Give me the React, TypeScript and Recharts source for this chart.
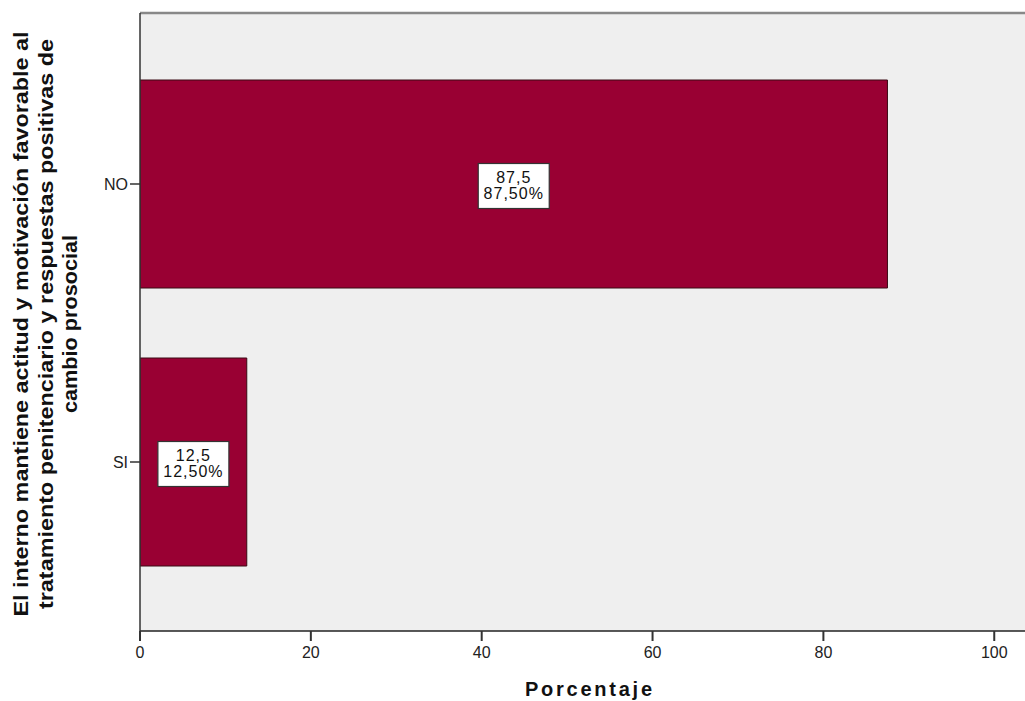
import { BarChart, Bar, XAxis, YAxis, CartesianGrid, LabelList } from "recharts";

const categories = ["NO", "SI"];
const percentages = [87.5, 12.5];
const xTicks = [0, 20, 40, 60, 80, 100];
const yTitleLines = [
  "El interno mantiene actitud y motivación favorable al",
  "tratamiento penitenciario y respuestas positivas de",
  "cambio prosocial",
];

const data = categories.map((c, i) => ({ cat: c, pct: percentages[i] }));

const FONT = "'Liberation Sans', Arial, sans-serif";

function fmt(v: number, digits: number) {
  return v.toFixed(digits).replace(".", ",");
}

// white value box in the middle of each bar (count + percent)
function ValueBox(props: any) {
  const { x, y, width, height, value } = props;
  const cx = x + width / 2;
  const cy = y + height / 2 + 2;
  const w = 71;
  const h = 45;
  return (
    <g>
      <rect x={cx - w / 2} y={cy - h / 2} width={w} height={h} fill="#fff" stroke="#333" strokeWidth={1.2} />
      <text x={cx} y={cy - 3} textAnchor="middle" fontSize={16} letterSpacing={1} fontFamily={FONT} fill="#111">
        {fmt(value, 1)}
      </text>
      <text x={cx} y={cy + 13} textAnchor="middle" fontSize={16} letterSpacing={1} fontFamily={FONT} fill="#111">
        {fmt(value, 2)}%
      </text>
    </g>
  );
}

function YTitle(props: any) {
  const { viewBox } = props;
  const cy = viewBox.y + viewBox.height / 2 + 2;
  const xs = [28, 53, 77];
  const lens = [585, 570, 178];
  return (
    <g>
      {yTitleLines.map((line, i) => (
        <text
          key={i}
          x={xs[i]}
          y={cy}
          transform={`rotate(-90 ${xs[i]} ${cy})`}
          textAnchor="middle"
          fontSize={21}
          fontWeight="bold"
          fontFamily={FONT}
          textLength={lens[i]}
          lengthAdjust="spacingAndGlyphs"
          fill="#111"
        >
          {line}
        </text>
      ))}
    </g>
  );
}

function XTitle(props: any) {
  const { viewBox } = props;
  const cx = viewBox.x + viewBox.width / 2 + 6;
  return (
    <text
      x={cx}
      y={696}
      textAnchor="middle"
      fontSize={20}
      fontWeight="bold"
      fontFamily={FONT}
      textLength={127}
      lengthAdjust="spacing"
      fill="#111"
    >
      Porcentaje
    </text>
  );
}

export default function App() {
  return (
    <div style={{ position: "absolute", left: 0, top: 0, width: 1025, height: 701, overflow: "hidden", background: "#fff" }}>
      <BarChart
        width={1025}
        height={701}
        data={data}
        layout="vertical"
        margin={{ top: 12, right: 0, bottom: 0, left: 0 }}
      >
        <CartesianGrid fill="#efefef" horizontal={false} vertical={false} />
        <XAxis
          type="number"
          dataKey="pct"
          domain={[0, 103.6]}
          ticks={xTicks}
          allowDataOverflow
          height={70}
          tickLine={{ stroke: "#333", strokeWidth: 2 }}
          tickSize={10}
          tickMargin={6}
          axisLine={{ stroke: "#222", strokeWidth: 1.5 }}
          tick={{ fontSize: 16, fontFamily: FONT, fill: "#222" }}
          label={<XTitle />}
        />
        <XAxis
          xAxisId="top"
          orientation="top"
          type="number"
          domain={[0, 103.6]}
          height={1}
          tick={false}
          tickLine={false}
          axisLine={{ stroke: "#888", strokeWidth: 2.5 }}
        />
        <YAxis
          type="category"
          dataKey="cat"
          width={140}
          padding={{ top: 32, bottom: 30 }}
          tickLine={{ stroke: "#333", strokeWidth: 1.5 }}
          tickSize={10}
          tickMargin={2}
          axisLine={{ stroke: "#333", strokeWidth: 1.5 }}
          tick={{ fontSize: 16, fontFamily: FONT, fill: "#222" }}
          label={<YTitle />}
        />
        <Bar dataKey="pct" barSize={208} fill="#990033" stroke="#3a0a14" strokeWidth={1} isAnimationActive={false}>
          <LabelList dataKey="pct" content={<ValueBox />} />
        </Bar>
      </BarChart>
    </div>
  );
}
